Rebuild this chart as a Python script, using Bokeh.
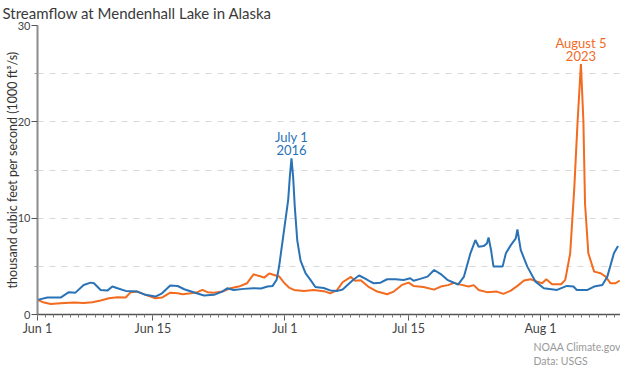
import numpy as np
from bokeh.plotting import figure
from bokeh.models import Range1d, FixedTicker, Title, ColumnDataSource, GlobalInlineStyleSheet
from bokeh.core.properties import value
from bokeh.embed import file_html
from bokeh.resources import INLINE

# ---- data (day index 0 = Jun 1) ----
day_2016 = [0, 1.2, 2.8, 3.8, 4.6, 5.6, 6.45, 6.85, 7.66, 8.47, 9.08, 9.7, 10.7, 12.1, 13.1, 14.3,
            15.1, 16.1, 17.0, 17.8, 19.0, 20.2, 21.4, 22.4, 23.0, 23.8, 25.0, 26.2, 27.1, 27.9, 28.5,
            29.0, 29.3, 29.9, 30.4, 30.6, 30.8, 31.0, 31.2, 31.5, 31.9, 32.5, 33.1, 33.7, 34.7, 35.5,
            36.4, 37.0, 37.6, 38.3, 39.0, 39.8, 40.4, 40.8, 41.6, 42.4, 43.4, 44.4, 45.2, 45.6, 46.4,
            47.3, 48.1, 48.9, 49.7, 50.5, 51.0, 51.7, 52.5, 53.1, 53.5, 54.1, 54.5, 54.7, 55.0, 55.3,
            56.4, 56.8, 57.4, 58.0, 58.2, 58.6, 59.4, 60.4, 61.4, 63.0, 64.2, 65.0, 65.4, 66.7, 67.5,
            68.5, 69.1, 69.9, 70.4]
flow_2016 = [1.52, 1.76, 1.76, 2.32, 2.27, 3.07, 3.31, 3.24, 2.55, 2.48, 2.9, 2.72, 2.45, 2.38, 2.04, 1.86,
             2.2, 3.0, 2.96, 2.62, 2.28, 1.97, 2.04, 2.38, 2.72, 2.55, 2.66, 2.72, 2.7, 2.9, 2.95,
             3.6, 5.0, 8.76, 11.9, 14.3, 16.2, 14.3, 11.2, 7.7, 5.6, 4.3, 3.6, 2.85, 2.75, 2.5,
             2.45, 2.6, 3.07, 3.6, 4.05, 3.7, 3.4, 3.24, 3.3, 3.66, 3.66, 3.59, 3.76, 3.5, 3.7,
             3.93, 4.62, 4.2, 3.6, 3.3, 3.1, 3.9, 6.35, 7.73, 7.03, 7.1, 7.38, 8.0, 6.7, 4.97,
             4.97, 6.35, 7.2, 7.9, 8.83, 6.7, 4.97, 3.41, 2.73, 2.55, 2.97, 2.9, 2.55, 2.55, 2.9,
             3.07, 3.93, 6.35, 7.1]

day_2023 = [0, 0.8, 1.6, 2.8, 4.4, 5.6, 6.65, 7.66, 8.67, 9.7, 10.7, 11.3, 12.1, 13.1, 14.3, 15.1,
            16.1, 17.0, 17.6, 18.6, 19.4, 20.0, 20.6, 21.4, 22.4, 23.4, 24.4, 25.4, 26.2, 27.1, 27.5,
            28.1, 28.7, 29.3, 29.9, 30.5, 31.1, 32.3, 33.5, 34.9, 35.5, 36.3, 37.0, 38.0, 38.5, 39.2,
            40.1, 41.2, 42.4, 43.2, 44.2, 45.0, 45.6, 46.8, 48.1, 48.9, 49.8, 50.5, 51.3, 52.3, 52.9,
            53.5, 54.5, 55.7, 56.5, 57.4, 58.2, 59.0, 59.8, 60.6, 61.2, 61.7, 62.4, 63.5, 64.0, 64.6,
            65.1, 65.5, 65.9, 66.2, 66.4, 66.8, 67.5, 68.3, 68.9, 69.5, 70.1, 70.6]
flow_2023 = [1.52, 1.24, 1.1, 1.17, 1.24, 1.2, 1.28, 1.45, 1.69, 1.79, 1.76, 2.32, 2.38, 2.04, 1.69, 1.76,
             2.27, 2.2, 2.1, 2.2, 2.32, 2.55, 2.32, 2.27, 2.38, 2.72, 2.9, 3.24, 4.17, 3.95, 3.83,
             4.25, 4.1, 3.95, 3.3, 2.8, 2.55, 2.45, 2.55, 2.38, 2.2, 2.5, 3.35, 3.9, 3.5, 3.55,
             2.9, 2.38, 2.1, 2.38, 3.07, 3.31, 2.97, 2.85, 2.58, 2.9, 3.05, 3.28, 3.1, 2.9, 3.05,
             2.55, 2.32, 2.38, 2.14, 2.48, 2.97, 3.52, 3.66, 3.41, 3.24, 3.66, 3.14, 3.14, 3.59, 6.35,
             13.2, 20.1, 26.0, 20.1, 11.5, 6.35, 4.45, 4.28, 3.93, 3.24, 3.24, 3.52]

x_tick_days = [0, 14, 30, 45, 61]
x_tick_labels = ["Jun 1", "Jun 15", "Jul 1", "Jul 15", "Aug 1"]
y_ticks = [0, 10, 20, 30]
y_minor = [5, 15, 25]
y_grid = [5, 10, 15, 20, 25, 30]
peak_labels_2016 = ["July 1", "2016"]
peak_labels_2023 = ["August 5", "2023"]

BLUE = "#2a72b6"
ORANGE = "#f26b1f"
FONT = "Lato"

p = figure(width=620, height=366, output_backend="svg", toolbar_location=None,
           x_range=Range1d(0, 70.7), y_range=Range1d(0, 30),
           min_border_left=37, min_border_right=0, min_border_top=25, min_border_bottom=51)
p.stylesheets = [GlobalInlineStyleSheet(css="html, body { margin: 0 !important; padding: 0 !important; }")]
p.outline_line_color = None
p.background_fill_color = "white"
p.border_fill_color = "white"

# title (above, left aligned)
p.title.text = "Streamflow at Mendenhall Lake in Alaska"
p.title.align = "left"
p.title.vertical_align = "top"
p.title.offset = -35
p.title.standoff = 3
p.title.text_font = FONT
p.title.text_font_size = "15px"
p.title.text_font_style = "normal"
p.title.text_color = "#3a3a3a"

p.xgrid.visible = False
p.ygrid.ticker = FixedTicker(ticks=y_grid)
p.ygrid.grid_line_color = "#d9d9d9"
p.ygrid.grid_line_dash = "6 6"
p.ygrid.grid_line_width = 1

xa = p.xaxis[0]
xa.ticker = FixedTicker(ticks=x_tick_days, minor_ticks=list(range(0, 71)))
xa.major_label_overrides = {d: l for d, l in zip(x_tick_days, x_tick_labels)}
xa.axis_line_color = "#555555"
xa.axis_line_width = 1.5
xa.major_tick_line_color = "#555555"
xa.minor_tick_line_color = "#777777"
xa.major_tick_out = 6
xa.major_tick_in = 0
xa.minor_tick_out = 3
xa.minor_tick_in = 0
xa.major_label_text_font = FONT
xa.major_label_text_font_size = "12.5px"
xa.major_label_text_color = "#444444"
xa.major_label_standoff = 0

ya = p.yaxis[0]
ya.ticker = FixedTicker(ticks=y_ticks, minor_ticks=y_minor)
ya.axis_line_color = "#8c8c8c"
ya.axis_line_width = 2
ya.major_tick_line_color = "#555555"
ya.minor_tick_line_color = "#999999"
ya.major_tick_out = 6
ya.major_tick_in = 0
ya.minor_tick_out = 3
ya.minor_tick_in = 0
ya.major_label_text_font = FONT
ya.major_label_text_font_size = "11px"
ya.major_label_text_color = "#444444"
ya.major_label_standoff = 1
ya.axis_label = "thousand cubic feet per second (1000 ft\u00b3/s)"
ya.axis_label_text_font = FONT
ya.axis_label_text_font_size = "12.5px"
ya.axis_label_text_font_style = "normal"
ya.axis_label_text_color = "#333333"
ya.axis_label_standoff = -5

p.line(day_2023, flow_2023, line_color=ORANGE, line_width=2)
p.line(day_2016, flow_2016, line_color=BLUE, line_width=2)

# peak annotations, anchored to each series' maximum
for days, flows, labels, color in [(day_2016, flow_2016, peak_labels_2016, BLUE),
                                   (day_2023, flow_2023, peak_labels_2023, ORANGE)]:
    i = int(np.argmax(flows))
    src = ColumnDataSource(dict(x=[days[i], days[i]], y=[flows[i], flows[i]],
                                t=labels, off=[-21, -8]))
    p.text(x="x", y="y", text="t", y_offset="off", source=src, text_color=color,
           text_font=value(FONT), text_font_size="13px", text_align="center",
           text_baseline="middle")

# footer credits (below the x axis)
for txt in ["NOAA Climate.gov", "Data: USGS"]:
    p.add_layout(Title(text=txt, align="left", offset=496, standoff=0, text_font=FONT,
                       text_font_size="10.5px", text_font_style="normal",
                       text_color="#999999"), "below")

open("out.html", "w").write(file_html(p, INLINE))
